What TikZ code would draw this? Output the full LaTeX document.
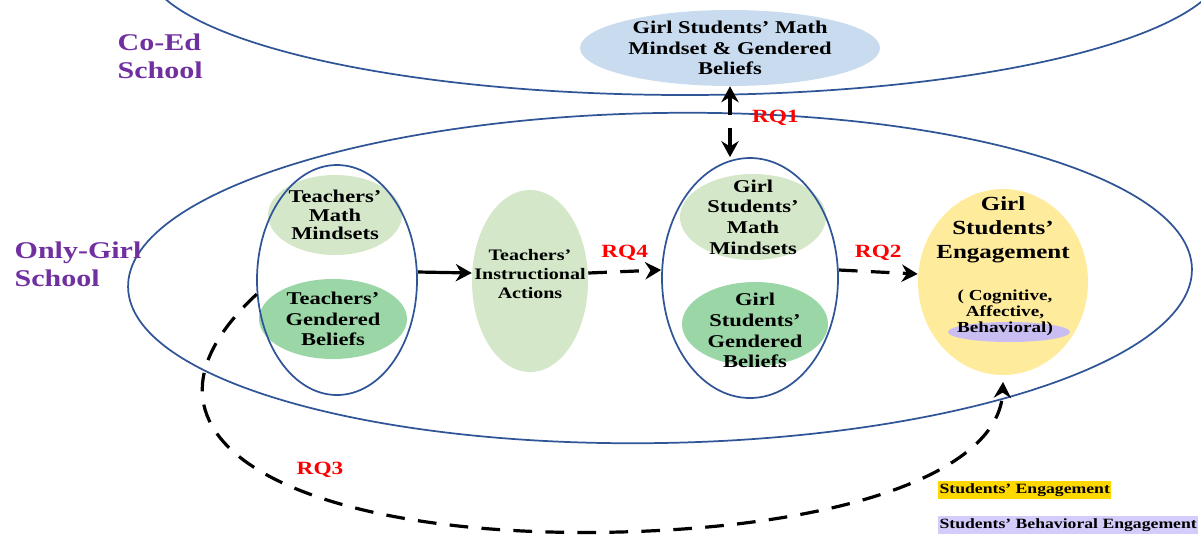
\documentclass[tikz,border=0pt]{standalone}
\usepackage{fontspec}
\setmainfont[FakeStretch=1.25]{Liberation Serif}
\usetikzlibrary{shapes.geometric,arrows.meta}

\definecolor{ringblue}{HTML}{2F5597}
\definecolor{mindgreen}{HTML}{D4E7C8}
\definecolor{beliefgreen}{HTML}{9BD6A6}
\definecolor{topblue}{HTML}{C8DBEF}
\definecolor{engyellow}{HTML}{FFEB9C}
\definecolor{behpurple}{HTML}{C9BDF2}
\definecolor{schoolpurple}{HTML}{7030A0}
\definecolor{legyellow}{HTML}{FFD800}
\definecolor{legpurple}{HTML}{D4CCFA}

\begin{document}
\begin{tikzpicture}[x=0.75pt,y=-0.75pt,
    >={Stealth[length=12pt,width=13pt,inset=4pt]},
    ring/.style={ellipse,draw=ringblue,line width=1.3pt,inner sep=0pt},
    blob/.style={ellipse,inner sep=0pt},
    blobtext/.style={align=center,font=\bfseries\fontsize{13.5}{15.5}\selectfont},
    school/.style={text=schoolpurple,align=left,anchor=west,
      font=\bfseries\fontsize{18}{21}\selectfont},
    rq/.style={text=red,font=\bfseries\fontsize{14}{16}\selectfont},
    legend/.style={anchor=west,inner xsep=1pt,inner ysep=2pt,text height=7.5pt,
      text depth=2.2pt,font=\bfseries\fontsize{10.6}{12}\selectfont},
    link/.style={line width=2.4pt,->},
    dashlink/.style={link,dash pattern=on 14pt off 10pt}]
  \useasboundingbox (0,0) rectangle (1201,537);
  \clip (0,0) rectangle (1201,537);

  % the two schools
  \node[ring,minimum width=810pt,minimum height=198pt] (coed) at (685,-37) {};
  \node[ring,minimum width=798pt,minimum height=247.5pt,rotate=1] (girlschool) at (660,278) {};
  \node[school] (coedname) at (113,56) {Co-Ed\\School};
  \node[school] (girlname) at (10,264) {Only-Girl\\School};

  % co-ed side
  \node[blob,fill=topblue,minimum width=225pt,minimum height=57pt,
    label={[blobtext]center:Girl Students' Math\\Mindset \& Gendered\\Beliefs}] (topbeliefs) at (730,48) {};

  % teachers
  \node[blob,fill=mindgreen,minimum width=100.5pt,minimum height=60pt,
    label={[blobtext,font=\bfseries\fontsize{13.5}{13.8}\selectfont]center:Teachers'\\Math\\Mindsets}] (tmind) at (335,215) {};
  \node[blob,fill=beliefgreen,minimum width=111pt,minimum height=60pt,
    label={[blobtext]center:Teachers'\\Gendered\\Beliefs}] (tbelief) at (333,319) {};
  \node[ring,minimum width=120pt,minimum height=172.5pt] (teachring) at (337,280) {};
  \node[blob,fill=mindgreen,minimum width=87pt,minimum height=136.5pt,
    label={[blobtext,font=\bfseries\fontsize{12}{14.3}\selectfont,yshift=5pt]center:Teachers'\\Instructional\\Actions}] (action) at (530,281) {};

  % girl students
  \node[blob,fill=mindgreen,minimum width=109.5pt,minimum height=64.5pt,
    label={[blobtext]center:Girl\\Students'\\Math\\Mindsets}] (smind) at (753,217) {};
  \node[blob,fill=beliefgreen,minimum width=109.5pt,minimum height=63pt,
    label={[blobtext,yshift=-5pt]center:Girl\\Students'\\Gendered\\Beliefs}] (sbelief) at (755,324) {};
  \node[ring,minimum width=132pt,minimum height=180pt] (studring) at (750,278) {};

  % engagement
  \node[blob,fill=engyellow,minimum width=127.5pt,minimum height=139.5pt,
    label={[blobtext,font=\bfseries\fontsize{15}{18}\selectfont,yshift=39pt]center:Girl\\Students'\\Engagement}] (engage) at (1003,282) {};
  \node[blob,fill=behpurple,minimum width=91.5pt,minimum height=15pt] (behav) at (1009,332) {};
  \node[blobtext,font=\bfseries\fontsize{11.5}{12}\selectfont] (engtypes) at (1005,313) {( Cognitive,\\Affective,\\Behavioral)};

  % research questions
  \draw[dashlink,<->] (topbeliefs.south) -- node[rq,pos=0.45,right=12pt] {RQ1} (topbeliefs.south |- studring.north);
  \draw[link] ([yshift=6pt]teachring.east) -- ([yshift=6pt]action.west);
  \draw[dashlink] ([yshift=6pt]action.east) -- node[rq,above=4pt] {RQ4} ([yshift=6pt]studring.west);
  \draw[dashlink] ([yshift=6pt]studring.east) -- node[rq,above=4pt] {RQ2} ([yshift=6pt]engage.west);
  \draw[dashlink] (teachring.190) .. controls (100,440) and (300,540) .. (620,532)
    .. controls (850,526) and (1000,470) .. ([yshift=-5pt]engage.south);
  \node[rq] (rq3) at (320,470) {RQ3};

  % legend
  \node[legend,fill=legyellow] (legeng) at (938,490) {Students' Engagement};
  \node[legend,fill=legpurple] (legbeh) at (938,525) {Students' Behavioral Engagement};
\end{tikzpicture}
\end{document}
